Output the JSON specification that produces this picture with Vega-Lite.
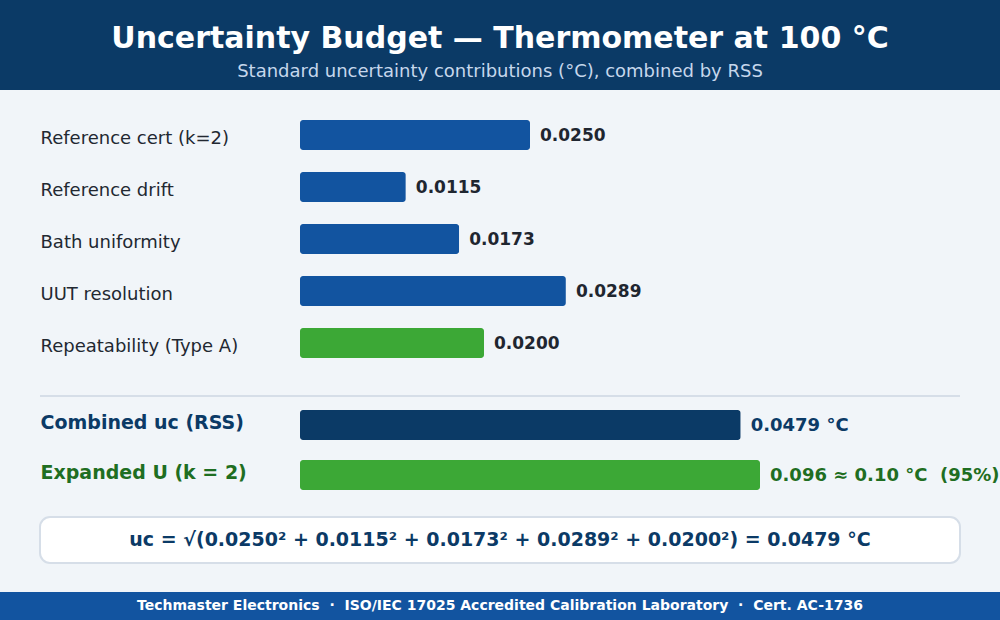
{
  "$schema": "https://vega.github.io/schema/vega-lite/v6.json",
  "background": "#f1f5f9",
  "padding": 0,
  "spacing": 0,
  "bounds": "flush",
  "center": true,
  "resolve": {"scale": {"x": "independent", "y": "independent", "color": "independent"}},
  "config": {
    "font": "DejaVu Sans",
    "view": {"stroke": null},
    "axis": {"grid": false, "domain": false, "ticks": false, "tickSize": 0, "title": null}
  },
  "vconcat": [
    {
      "width": 1000,
      "height": 90,
      "view": {"fill": "#0b3a66", "stroke": null},
      "data": {"values": [{"title": "Uncertainty Budget — Thermometer at 100 °C", "subtitle": "Standard uncertainty contributions (°C), combined by RSS"}]},
      "layer": [
        {
          "mark": {"type": "text", "font": "DejaVu Sans", "fontWeight": "bold", "fontSize": 30, "color": "#ffffff", "baseline": "alphabetic", "align": "center", "dy": 3},
          "encoding": {"text": {"field": "title"}}
        },
        {
          "mark": {"type": "text", "font": "DejaVu Sans", "fontSize": 18, "color": "#c6d7ec", "baseline": "alphabetic", "align": "center", "dy": 32},
          "encoding": {"text": {"field": "subtitle"}}
        }
      ]
    },
    {
      "width": 1000,
      "height": 305,
      "data": {"values": [
        {"source": "Reference cert (k=2)", "u": 0.0250, "kind": "Type B"},
        {"source": "Reference drift", "u": 0.0115, "kind": "Type B"},
        {"source": "Bath uniformity", "u": 0.0173, "kind": "Type B"},
        {"source": "UUT resolution", "u": 0.0289, "kind": "Type B"},
        {"source": "Repeatability (Type A)", "u": 0.0200, "kind": "Type A"}
      ]},
      "encoding": {
        "y": {
          "field": "source", "type": "nominal", "sort": null,
          "scale": {"paddingInner": 0.4231, "paddingOuter": 0.644, "align": 0.448},
          "axis": {"orient": "left", "offset": -40, "labelPadding": 0, "labelAlign": "left", "labelBaseline": "middle", "labelOffset": 4, "labelFontSize": 18, "labelColor": "#222831", "labelLimit": 0, "labelFont": "DejaVu Sans"}
        }
      },
      "layer": [
        {
          "mark": {"type": "bar", "cornerRadius": 3},
          "encoding": {
            "x": {"field": "u", "type": "quantitative", "scale": {"domain": [0, 0.05], "range": [300, 760], "clamp": true, "zero": true, "nice": false}, "axis": null},
            "color": {"field": "kind", "type": "nominal", "scale": {"domain": ["Type B", "Type A"], "range": ["#1254a0", "#3ca836"]}, "legend": null}
          }
        },
        {
          "mark": {"type": "text", "align": "left", "baseline": "middle", "dx": 10, "dy": 1, "font": "DejaVu Sans", "fontWeight": "bold", "fontSize": 17, "color": "#1f2630"},
          "encoding": {
            "x": {"field": "u", "type": "quantitative", "scale": {"domain": [0, 0.05], "range": [300, 760], "clamp": true, "zero": true, "nice": false}, "axis": null},
            "text": {"field": "u", "type": "quantitative", "format": ".4f"}
          }
        }
      ]
    },
    {
      "width": 920,
      "height": 2,
      "view": {"fill": "#d6dee8", "stroke": null},
      "data": {"values": [{}]},
      "mark": {"type": "text", "text": ""},
      "encoding": {}
    },
    {
      "width": 1000,
      "height": 120,
      "data": {"values": [
        {"quantity": "Combined uc (RSS)", "value": 0.0479, "label": "0.0479 °C"},
        {"quantity": "Expanded U (k = 2)", "value": 0.096, "label": "0.096 ≈ 0.10 °C \u00a0(95%)"}
      ]},
      "encoding": {
        "y": {
          "field": "quantity", "type": "nominal", "sort": null,
          "scale": {"paddingInner": 0.4, "paddingOuter": 0.4, "align": 0.325},
          "axis": {
            "orient": "left", "offset": -40, "labelPadding": 0, "labelAlign": "left", "labelBaseline": "middle", "labelOffset": -2,
            "labelFontSize": 19, "labelFontWeight": "bold", "labelLimit": 0, "labelFont": "DejaVu Sans",
            "labelColor": {"condition": {"test": "datum.value === 'Combined uc (RSS)'", "value": "#0b3a66"}, "value": "#1f6e22"}
          }
        }
      },
      "layer": [
        {
          "mark": {"type": "bar", "cornerRadius": 3},
          "encoding": {
            "x": {"field": "value", "type": "quantitative", "scale": {"domain": [0, 0.05], "range": [300, 760], "clamp": true, "zero": true, "nice": false}, "axis": null},
            "color": {"field": "quantity", "type": "nominal", "scale": {"domain": ["Combined uc (RSS)", "Expanded U (k = 2)"], "range": ["#0b3a66", "#3ca836"]}, "legend": null}
          }
        },
        {
          "mark": {"type": "text", "align": "left", "baseline": "middle", "dx": 10, "dy": 1, "font": "DejaVu Sans", "fontWeight": "bold", "fontSize": 18},
          "encoding": {
            "x": {"field": "value", "type": "quantitative", "scale": {"domain": [0, 0.05], "range": [300, 760], "clamp": true, "zero": true, "nice": false}, "axis": null},
            "text": {"field": "label"},
            "color": {"condition": {"test": "datum.quantity === 'Combined uc (RSS)'", "value": "#0b3a66"}, "value": "#1f6e22"}
          }
        }
      ]
    },
    {
      "width": 920,
      "height": 46,
      "view": {"fill": "#ffffff", "stroke": "#d6dee8", "strokeWidth": 2, "cornerRadius": 10},
      "data": {"values": [{"formula": "uc = √(0.0250² + 0.0115² + 0.0173² + 0.0289² + 0.0200²) = 0.0479 °C"}]},
      "mark": {"type": "text", "align": "center", "baseline": "middle", "font": "DejaVu Sans", "fontWeight": "bold", "fontSize": 19, "color": "#0b3a66"},
      "encoding": {"text": {"field": "formula"}}
    },
    {
      "width": 1000,
      "height": 29,
      "data": {"values": [{}]},
      "mark": {"type": "text", "text": ""},
      "encoding": {}
    },
    {
      "width": 1000,
      "height": 28,
      "view": {"fill": "#1254a0", "stroke": null},
      "data": {"values": [{"footer": "Techmaster Electronics \u00a0·\u00a0 ISO/IEC 17025 Accredited Calibration Laboratory \u00a0·\u00a0 Cert. AC-1736"}]},
      "mark": {"type": "text", "align": "center", "baseline": "middle", "font": "DejaVu Sans", "fontWeight": "bold", "fontSize": 14, "color": "#ffffff"},
      "encoding": {"text": {"field": "footer"}}
    }
  ]
}
